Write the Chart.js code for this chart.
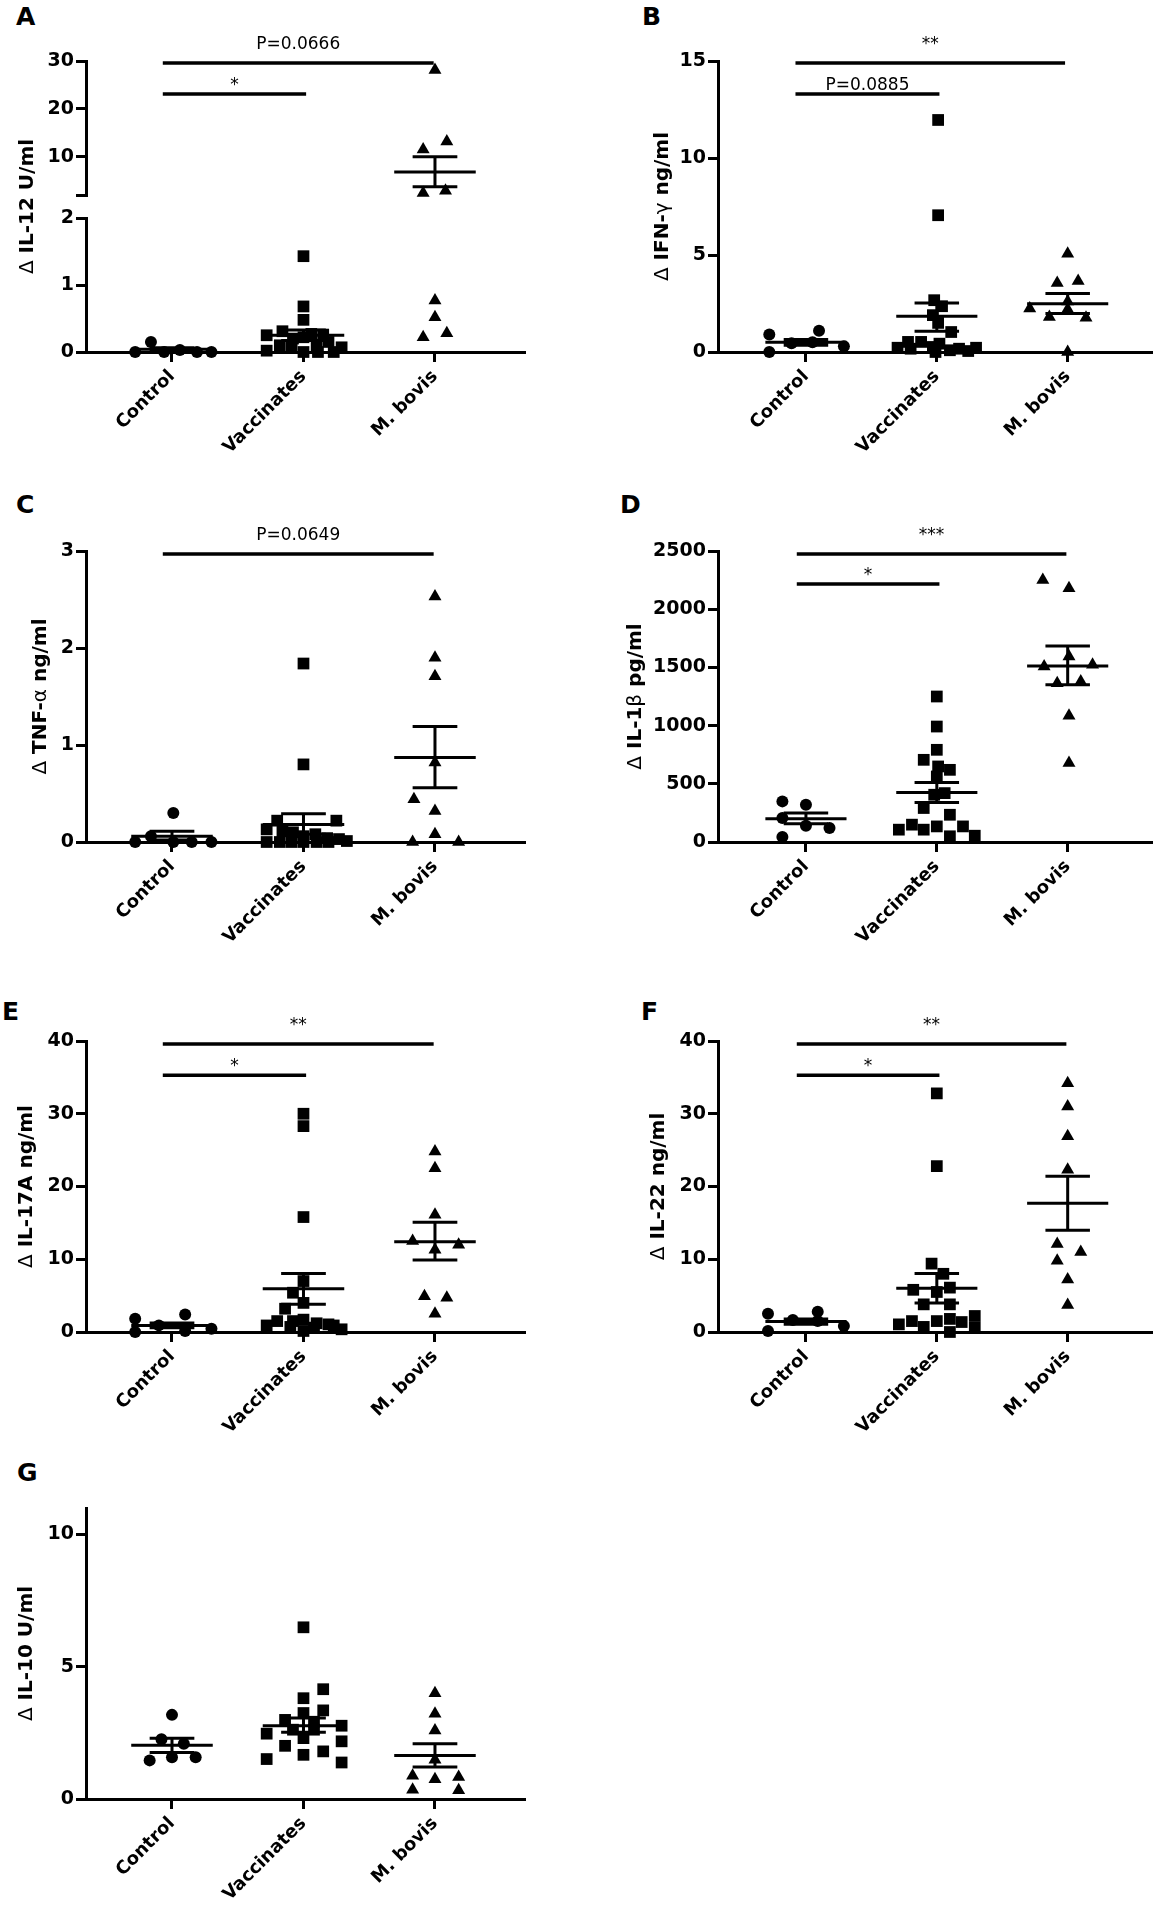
<!DOCTYPE html>
<html>
<head>
<meta charset="utf-8">
<script src="https://cdn.jsdelivr.net/npm/chart.js@4.4.1/dist/chart.umd.min.js"></script>
<style>
  body { margin: 0; background: #fff; }
  #page { position: relative; width: 1160px; height: 1908px; background: #fff; overflow: hidden; }
  #page canvas { position: absolute; }
  .tag { position: absolute; font: bold 25px "DejaVu Sans", sans-serif; line-height: 1; color: #000; }
</style>
</head>
<body>
<div id="page">
  <div class="tag" style="left:16px;top:4px">A</div>
  <div class="tag" style="left:642px;top:4px">B</div>
  <div class="tag" style="left:16px;top:492px">C</div>
  <div class="tag" style="left:620px;top:492px">D</div>
  <div class="tag" style="left:2px;top:999px">E</div>
  <div class="tag" style="left:641px;top:999px">F</div>
  <div class="tag" style="left:17px;top:1460px">G</div>
  <canvas id="chartA"></canvas>
  <canvas id="chartB"></canvas>
  <canvas id="chartC"></canvas>
  <canvas id="chartD"></canvas>
  <canvas id="chartE"></canvas>
  <canvas id="chartF"></canvas>
  <canvas id="chartG"></canvas>
</div>
<script>
// groups on the x axis
const CATS = ['Control', 'Vaccinates', 'M. bovis'];

// A - IL-12 (broken axis)
const il12CtrlX = [0.72, 0.84, 0.94, 1.06, 1.19, 1.30];
const il12CtrlY = [0, 0.15, 0, 0.03, 0, 0];
const il12VaccX = [2.0, 2.0, 2.0, 1.72, 1.84, 1.92, 2.06, 2.15, 2.0, 1.72, 1.82, 1.91, 2.0, 2.1, 2.19, 2.23, 2.29, 2.11];
const il12VaccY = [1.43, 0.68, 0.48, 0.25, 0.31, 0.2, 0.27, 0.26, 0.22, 0.02, 0.1, 0.07, 0, 0.07, 0.15, 0, 0.07, 0];
const il12BovX = [3.0, 3.09, 2.91, 2.91, 3.08, 3.0, 3.0, 2.91, 3.09];
const il12BovY = [28.1, 13.2, 11.5, 2.4, 2.9, 0.77, 0.52, 0.22, 0.28];
const il12Mean = [0.04, 0.25, 6.8];
const il12SemLo = [0.015, 0.17, 3.7];
const il12SemHi = [0.065, 0.33, 10.0];
const il12TicksHigh = [2, 10, 20, 30];
const il12TicksLow = [0, 1, 2];
const il12Bars = [[0.93, 2.99, 29.6, 'P=0.0666'], [0.93, 2.02, 23.1, '*']];

// B - IFN-gamma
const ifngCtrlX = [0.72, 0.72, 0.89, 1.05, 1.10, 1.29];
const ifngCtrlY = [0.9, 0, 0.45, 0.5, 1.1, 0.3];
const ifngVaccX = [2.01, 2.01, 1.98, 2.04, 1.97, 2.01, 2.11, 1.78, 1.88, 1.70, 1.97, 2.02, 1.99, 2.10, 2.17, 2.24, 2.30, 1.80];
const ifngVaccY = [11.96, 7.05, 2.67, 2.36, 1.9, 1.5, 1.03, 0.52, 0.52, 0.22, 0.26, 0.43, 0, 0.09, 0.17, 0.05, 0.22, 0.17];
const ifngBovX = [3.0, 2.92, 3.08, 2.71, 2.86, 3.0, 3.14, 3.0, 3.0];
const ifngBovY = [5.07, 3.56, 3.66, 2.24, 1.8, 2.2, 1.77, 0, 2.6];
const ifngMean = [0.5, 1.84, 2.49];
const ifngSemLo = [0.35, 1.07, 1.98];
const ifngSemHi = [0.65, 2.53, 3.01];
const ifngTicks = [0, 5, 10, 15];
const ifngBars = [[0.92, 2.98, 14.9, '**'], [0.92, 2.02, 13.3, 'P=0.0885']];

// C - TNF-alpha
const tnfCtrlX = [0.72, 0.84, 1.01, 1.01, 1.15, 1.30];
const tnfCtrlY = [0, 0.06, 0.3, 0, 0, 0];
const tnfVaccX = [2.0, 2.0, 2.25, 1.80, 1.72, 1.84, 1.92, 2.0, 2.09, 2.18, 2.27, 2.33, 1.72, 1.82, 1.91, 2.0, 2.1, 2.19];
const tnfVaccY = [1.84, 0.8, 0.22, 0.22, 0.13, 0.11, 0.1, 0.06, 0.08, 0.04, 0.03, 0.01, 0, 0, 0, 0, 0, 0];
const tnfBovX = [3.0, 3.0, 3.0, 3.0, 2.84, 3.0, 3.0, 2.83, 3.18];
const tnfBovY = [2.53, 1.9, 1.71, 0.82, 0.44, 0.32, 0.08, 0, 0];
const tnfMean = [0.06, 0.18, 0.87];
const tnfSemLo = [0.02, 0.08, 0.56];
const tnfSemHi = [0.11, 0.29, 1.19];
const tnfTicks = [0, 1, 2, 3];
const tnfBars = [[0.93, 2.99, 2.97, 'P=0.0649']];

// D - IL-1beta
const il1bCtrlX = [0.82, 1.0, 0.82, 1.0, 1.18, 0.82];
const il1bCtrlY = [349, 320, 206, 140, 120, 43];
const il1bVaccX = [2.0, 2.0, 2.0, 1.90, 2.01, 2.10, 2.0, 2.06, 1.98, 1.90, 2.10, 1.71, 1.81, 1.90, 2.0, 2.20, 2.10, 2.29];
const il1bVaccY = [1250, 992, 792, 706, 649, 620, 563, 420, 406, 292, 234, 106, 149, 106, 134, 134, 49, 54];
const il1bBovX = [2.81, 3.01, 3.01, 2.82, 3.19, 2.92, 3.10, 3.01, 3.01];
const il1bBovY = [2251, 2179, 1593, 1507, 1522, 1364, 1378, 1084, 678];
const il1bMean = [200, 426, 1513];
const il1bSemLo = [157, 340, 1350];
const il1bSemHi = [249, 512, 1684];
const il1bTicks = [0, 500, 1000, 1500, 2000, 2500];
const il1bBars = [[0.93, 2.99, 2474, '***'], [0.93, 2.02, 2216, '*']];

// E - IL-17A
const il17CtrlX = [0.72, 0.72, 0.90, 1.10, 1.10, 1.30];
const il17CtrlY = [1.83, 0, 0.91, 2.42, 0.14, 0.46];
const il17VaccX = [2.0, 2.0, 2.0, 2.0, 1.92, 2.0, 1.86, 1.72, 1.80, 1.92, 2.0, 2.10, 2.19, 2.23, 2.29, 2.08, 2.0, 1.90];
const il17VaccY = [30.0, 28.3, 15.8, 7.0, 5.4, 4.0, 3.2, 0.9, 1.5, 1.5, 1.7, 1.2, 1.05, 0.9, 0.37, 0.6, 0.14, 0.7];
const il17BovX = [3.0, 3.0, 3.0, 2.83, 3.18, 3.0, 2.92, 3.09, 3.0];
const il17BovY = [24.8, 22.5, 16.1, 12.5, 12.0, 11.3, 4.9, 4.7, 2.5];
const il17Mean = [0.91, 5.94, 12.4];
const il17SemLo = [0.6, 3.8, 9.9];
const il17SemHi = [1.25, 8.05, 15.1];
const il17Ticks = [0, 10, 20, 30, 40];
const il17Bars = [[0.93, 2.99, 39.6, '**'], [0.93, 2.02, 35.3, '*']];

// F - IL-22
const il22CtrlX = [0.71, 0.71, 0.90, 1.09, 1.09, 1.29];
const il22CtrlY = [2.5, 0.14, 1.65, 2.8, 1.5, 0.82];
const il22VaccX = [2.0, 2.0, 1.96, 2.05, 1.82, 2.0, 2.10, 1.90, 2.10, 1.71, 1.81, 2.0, 2.10, 2.19, 2.29, 2.29, 2.10, 1.90];
const il22VaccY = [32.8, 22.8, 9.4, 8.0, 5.8, 5.5, 6.1, 3.8, 3.8, 1.05, 1.5, 1.5, 1.8, 1.37, 2.2, 0.6, 0, 0.7];
const il22BovX = [3.0, 3.0, 3.0, 3.0, 2.92, 3.10, 2.92, 3.0, 3.0];
const il22BovY = [34.2, 31.0, 26.9, 22.3, 12.1, 11.0, 9.8, 7.2, 3.7];
const il22Mean = [1.45, 6.0, 17.7];
const il22SemLo = [1.05, 4.0, 14.0];
const il22SemHi = [1.8, 8.05, 21.4];
const il22Ticks = [0, 10, 20, 30, 40];
const il22Bars = [[0.93, 2.99, 39.6, '**'], [0.93, 2.02, 35.3, '*']];

// G - IL-10
const il10CtrlX = [1.0, 0.92, 1.09, 0.83, 1.0, 1.18];
const il10CtrlY = [3.18, 2.26, 2.09, 1.46, 1.58, 1.58];
const il10VaccX = [2.0, 2.15, 2.0, 2.15, 2.0, 1.86, 2.29, 1.72, 1.92, 2.08, 2.0, 1.86, 2.29, 2.15, 2.0, 1.72, 2.29, 2.08];
const il10VaccY = [6.49, 4.15, 3.81, 3.35, 3.25, 2.99, 2.77, 2.47, 2.62, 2.62, 2.3, 2.01, 2.18, 1.8, 1.67, 1.51, 1.38, 2.92];
const il10BovX = [3.0, 3.0, 3.0, 3.0, 2.83, 3.0, 3.18, 2.83, 3.18];
const il10BovY = [4.0, 3.22, 2.59, 1.48, 0.88, 0.75, 0.83, 0.35, 0.33];
const il10Mean = [2.03, 2.77, 1.64];
const il10SemLo = [1.76, 2.52, 1.21];
const il10SemHi = [2.30, 3.06, 2.09];
const il10Ticks = [0, 5, 10];
const il10Bars = [];

Chart.defaults.font.family = '"DejaVu Sans", sans-serif';
Chart.defaults.color = '#000';

const markers = [
  { pointStyle: 'circle', radius: 6 },
  { pointStyle: 'rect', radius: 8.3 },
  { pointStyle: 'triangle', radius: 7.5 }
];

// yScales listed bottom to top
const panels = [
  { id: 'chartA', col: 'L', top: 5, titleX: 28, title: 'Δ IL-12 U/ml',
    groups: [[il12CtrlX, il12CtrlY], [il12VaccX, il12VaccY], [il12BovX, il12BovY]],
    mean: il12Mean, lo: il12SemLo, hi: il12SemHi, bars: il12Bars, barAxis: 'yHigh',
    yScales: [
      { id: 'yLow', min: 0, max: 2, ticks: il12TicksLow, weight: 134 },
      { id: 'yGap', gap: true, weight: 23 },
      { id: 'yHigh', min: 2, max: 30, ticks: il12TicksHigh, weight: 134, hideMin: true }
    ] },
  { id: 'chartB', col: 'R', top: 5, titleX: 63, title: 'Δ IFN-γ ng/ml',
    groups: [[ifngCtrlX, ifngCtrlY], [ifngVaccX, ifngVaccY], [ifngBovX, ifngBovY]],
    mean: ifngMean, lo: ifngSemLo, hi: ifngSemHi, bars: ifngBars, barAxis: 'y',
    yScales: [{ id: 'y', min: 0, max: 15, ticks: ifngTicks }] },
  { id: 'chartC', col: 'L', top: 495, titleX: 41, title: 'Δ TNF-α ng/ml',
    groups: [[tnfCtrlX, tnfCtrlY], [tnfVaccX, tnfVaccY], [tnfBovX, tnfBovY]],
    mean: tnfMean, lo: tnfSemLo, hi: tnfSemHi, bars: tnfBars, barAxis: 'y',
    yScales: [{ id: 'y', min: 0, max: 3, ticks: tnfTicks }] },
  { id: 'chartD', col: 'R', top: 495, titleX: 36, title: 'Δ IL-1β pg/ml',
    groups: [[il1bCtrlX, il1bCtrlY], [il1bVaccX, il1bVaccY], [il1bBovX, il1bBovY]],
    mean: il1bMean, lo: il1bSemLo, hi: il1bSemHi, bars: il1bBars, barAxis: 'y',
    yScales: [{ id: 'y', min: 0, max: 2500, ticks: il1bTicks }] },
  { id: 'chartE', col: 'L', top: 985, titleX: 27, title: 'Δ IL-17A ng/ml',
    groups: [[il17CtrlX, il17CtrlY], [il17VaccX, il17VaccY], [il17BovX, il17BovY]],
    mean: il17Mean, lo: il17SemLo, hi: il17SemHi, bars: il17Bars, barAxis: 'y',
    yScales: [{ id: 'y', min: 0, max: 40, ticks: il17Ticks }] },
  { id: 'chartF', col: 'R', top: 985, titleX: 59, title: 'Δ IL-22 ng/ml',
    groups: [[il22CtrlX, il22CtrlY], [il22VaccX, il22VaccY], [il22BovX, il22BovY]],
    mean: il22Mean, lo: il22SemLo, hi: il22SemHi, bars: il22Bars, barAxis: 'y',
    yScales: [{ id: 'y', min: 0, max: 40, ticks: il22Ticks }] },
  { id: 'chartG', col: 'L', top: 1452, titleX: 27, title: 'Δ IL-10 U/ml',
    groups: [[il10CtrlX, il10CtrlY], [il10VaccX, il10VaccY], [il10BovX, il10BovY]],
    mean: il10Mean, lo: il10SemLo, hi: il10SemHi, bars: il10Bars, barAxis: 'y',
    yScales: [{ id: 'y', min: 0, max: 11, ticks: il10Ticks }] }
];

// mean line, SEM caps and the vertical SEM stroke as one broken line
function statLine(c, m, lo, hi) {
  return [
    { x: c - 0.31, y: m }, { x: c + 0.31, y: m }, { x: c, y: null },
    { x: c - 0.17, y: hi }, { x: c + 0.17, y: hi }, { x: c, y: null },
    { x: c - 0.17, y: lo }, { x: c + 0.17, y: lo }, { x: c, y: null },
    { x: c, y: lo }, { x: c, y: hi }
  ];
}

function drawTitle(ctx, text, x, yc) {
  // greek letters thin, the rest bold
  const runs = [];
  for (const ch of text) {
    const thin = /[Δαβγ]/.test(ch);
    const last = runs[runs.length - 1];
    if (last && last.thin === thin) last.t += ch;
    else runs.push({ t: ch, thin });
  }
  let total = 0;
  runs.forEach(r => {
    r.font = (r.thin ? '' : 'bold ') + '20px "DejaVu Sans"';
    ctx.font = r.font;
    r.w = ctx.measureText(r.t).width;
    total += r.w;
  });
  ctx.save();
  ctx.translate(x, yc);
  ctx.rotate(-Math.PI / 2);
  ctx.textBaseline = 'middle';
  ctx.textAlign = 'left';
  let cx = -total / 2;
  runs.forEach(r => { ctx.font = r.font; ctx.fillText(r.t, cx, 0); cx += r.w; });
  ctx.restore();
}

function decorPlugin(p) {
  return {
    id: 'decor',
    afterDatasetsDraw(chart) {
      const { ctx, chartArea, scales } = chart;
      ctx.save();
      ctx.strokeStyle = '#000';
      ctx.fillStyle = '#000';
      ctx.lineWidth = 3.5;
      p.bars.forEach(([from, to, v, label]) => {
        const y = scales[p.barAxis].getPixelForValue(v);
        const x1 = scales.x.getPixelForValue(from);
        const x2 = scales.x.getPixelForValue(to);
        ctx.beginPath();
        ctx.moveTo(x1, y);
        ctx.lineTo(x2, y);
        ctx.stroke();
        ctx.font = '17px "DejaVu Sans"';
        ctx.textAlign = 'center';
        ctx.textBaseline = 'alphabetic';
        ctx.fillText(label, (x1 + x2) / 2, y - (to > 2.5 ? 14 : 4));
      });
      drawTitle(ctx, p.title, p.titleX, (chartArea.top + chartArea.bottom) / 2);
      ctx.restore();
    }
  };
}

const gridStyle = { drawOnChartArea: false, drawTicks: true, tickLength: 10, lineWidth: 3, color: '#000' };
const borderStyle = { display: true, width: 3, color: '#000' };

function buildChart(p) {
  const left = p.col === 'L';
  const yW = left ? 86 : 118;
  const W = left ? 580 : 560;
  const H = 477;
  const canvas = document.getElementById(p.id);
  canvas.width = W;
  canvas.height = H;
  canvas.style.width = W + 'px';
  canvas.style.height = H + 'px';
  canvas.style.left = (left ? 0 : 600) + 'px';
  canvas.style.top = p.top + 'px';

  const scales = {
    x: {
      type: 'linear', position: 'bottom', bounds: 'data',
      min: left ? 0.346 : 0.328, max: left ? 3.677 : 3.642,
      afterBuildTicks: s => { s.ticks = [1, 2, 3].map(v => ({ value: v })); },
      afterFit: s => { s.height = 130; },
      ticks: { autoSkip: false, minRotation: 45, maxRotation: 45, padding: 4,
        font: { size: 18, weight: 'bold' }, color: '#000', callback: (v, i) => CATS[i] },
      grid: gridStyle, border: borderStyle
    }
  };
  const stacked = p.yScales.length > 1;
  p.yScales.forEach(ys => {
    const base = { type: 'linear', position: 'left', afterFit: s => { s.width = yW; } };
    if (stacked) { base.stack = p.id; base.stackWeight = ys.weight; }
    if (ys.gap) {
      scales[ys.id] = Object.assign(base, { ticks: { display: false }, grid: { display: false }, border: { display: false } });
      return;
    }
    scales[ys.id] = Object.assign(base, {
      min: ys.min, max: ys.max, bounds: 'data',
      afterBuildTicks: s => { s.ticks = ys.ticks.map(v => ({ value: v })); },
      ticks: { padding: 2, font: { size: 19, weight: 'bold' }, color: '#000',
        callback: v => (ys.hideMin && v === ys.min) ? '' : String(v) },
      grid: gridStyle, border: borderStyle
    });
  });

  const valueScales = p.yScales.filter(s => !s.gap);
  const pickAxis = v => (valueScales.find(s => v <= s.max) || valueScales[valueScales.length - 1]).id;

  const datasets = [];
  p.groups.forEach(([xs, ys], g) => {
    const m = markers[g];
    const pts = xs.map((x, i) => ({ x, y: ys[i] }));
    valueScales.forEach(s => {
      const sub = pts.filter(pt => pickAxis(pt.y) === s.id);
      if (!sub.length) return;
      datasets.push({
        data: sub, yAxisID: s.id, showLine: false, clip: false,
        pointStyle: m.pointStyle, pointRadius: m.radius, pointHoverRadius: m.radius,
        backgroundColor: '#000', borderColor: '#000', borderWidth: 0
      });
    });
    datasets.push({
      data: statLine(g + 1, p.mean[g], p.lo[g], p.hi[g]), yAxisID: pickAxis(p.mean[g]),
      showLine: true, spanGaps: false, pointRadius: 0, pointHoverRadius: 0,
      borderColor: '#000', borderWidth: 3, clip: false
    });
  });

  new Chart(canvas, {
    type: 'scatter',
    data: { datasets },
    options: {
      responsive: false, animation: false, devicePixelRatio: 1,
      layout: { padding: { left: 0, top: 56, right: left ? 56 : 3, bottom: 0 } },
      plugins: { legend: { display: false }, tooltip: { enabled: false } },
      scales
    },
    plugins: [decorPlugin(p)]
  });
}

panels.forEach(buildChart);
</script>
</body>
</html>
